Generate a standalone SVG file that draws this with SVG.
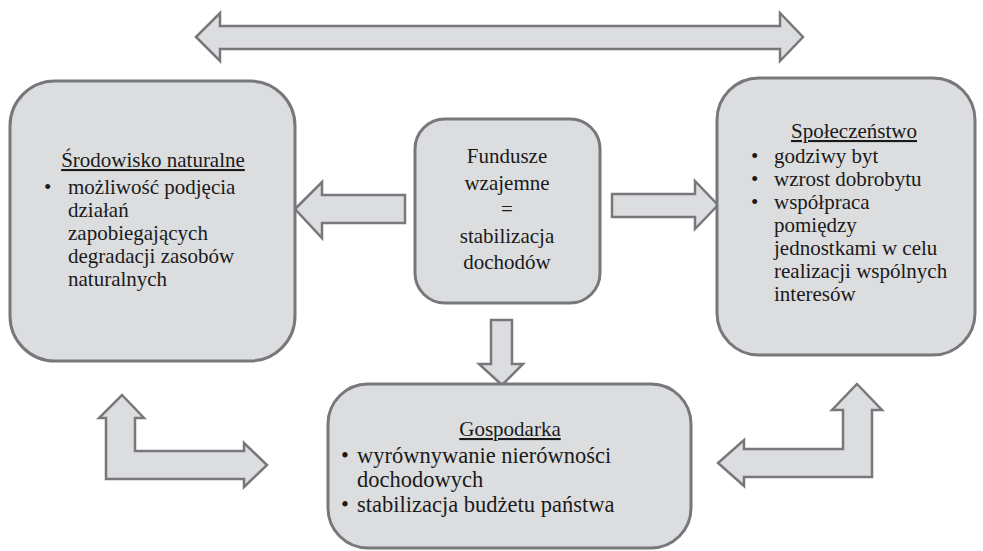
<svg xmlns="http://www.w3.org/2000/svg" width="983" height="551" viewBox="0 0 983 551">
<style>
.box{fill:#dcdddf;stroke:#77787b;stroke-width:3}
.arr{fill:#dcdddf;stroke:#77787b;stroke-width:2.5;stroke-linejoin:miter}
.t{font-family:"Liberation Serif","Times New Roman",Times,"Noto Serif","DejaVu Serif",serif;font-size:21px;fill:#1a1a1a}
.g{font-size:22.5px}
.c{text-anchor:middle}
.u{text-decoration:underline}
</style>
<rect width="983" height="551" fill="#ffffff"/>
<g id="connectors">
<polygon class="arr" points="196,37 220,13 220,26 780,26 780,13 803,37 780,61 780,49 220,49 220,61"/>
<polygon class="arr" points="295,209 322,182 322,195 405,195 405,223 322,223 322,238"/>
<polygon class="arr" points="612,194 695,194 695,181 718,205 695,229 695,217 612,217"/>
<polygon class="arr" points="491,320 512,320 512,364 523,364 502,385 479,364 491,364"/>
<polygon class="arr" points="122,395 144,418 135,418 135,451 244,451 244,443 267,465 244,487 244,479 106,479 106,418 99,418"/>
<polygon class="arr" points="857,384 882,410 872,410 872,477 744,477 744,486 718,463 744,440 744,449 843,449 843,410 832,410"/>
</g>
<g id="node-srodowisko">
<rect class="box" x="10" y="81" width="285" height="280" rx="45"/>
<text class="t c u" x="153" y="167">Środowisko naturalne</text>
<text class="t" x="44" y="194">•</text>
<text class="t" x="68" y="194">możliwość podjęcia</text>
<text class="t" x="68" y="217">działań</text>
<text class="t" x="68" y="240">zapobiegających</text>
<text class="t" x="68" y="263">degradacji zasobów</text>
<text class="t" x="68" y="286">naturalnych</text>
</g>
<g id="node-fundusze">
<rect class="box" x="415" y="119" width="185" height="184" rx="30"/>
<text class="t c" x="507" y="163">Fundusze</text>
<text class="t c" x="507" y="189.5">wzajemne</text>
<text class="t c" x="507" y="216">=</text>
<text class="t c" x="507" y="242.5">stabilizacja</text>
<text class="t c" x="507" y="269">dochodów</text>
</g>
<g id="node-spoleczenstwo">
<rect class="box" x="717" y="78" width="258" height="277" rx="42"/>
<text class="t c u" x="854" y="138">Społeczeństwo</text>
<text class="t" x="751" y="163">•</text>
<text class="t" x="774" y="163">godziwy byt</text>
<text class="t" x="751" y="186">•</text>
<text class="t" x="774" y="186">wzrost dobrobytu</text>
<text class="t" x="751" y="209">•</text>
<text class="t" x="774" y="209">współpraca</text>
<text class="t" x="774" y="232">pomiędzy</text>
<text class="t" x="774" y="255">jednostkami w celu</text>
<text class="t" x="774" y="278">realizacji wspólnych</text>
<text class="t" x="774" y="301">interesów</text>
</g>
<g id="node-gospodarka">
<rect class="box" x="328" y="384" width="363" height="164" rx="40"/>
<text class="t c u" x="510" y="436">Gospodarka</text>
<text class="t g" x="341" y="463">•</text>
<text class="t g" x="357" y="463">wyrównywanie nierówności</text>
<text class="t g" x="357" y="487">dochodowych</text>
<text class="t g" x="341" y="512">•</text>
<text class="t g" x="357" y="512">stabilizacja budżetu państwa</text>
</g>
</svg>
